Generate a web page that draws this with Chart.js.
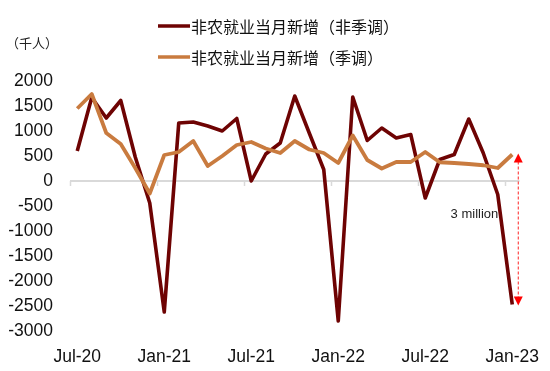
<!DOCTYPE html>
<html>
<head>
<meta charset="utf-8">
<script src="https://cdn.jsdelivr.net/npm/chart.js@4.4.0/dist/chart.umd.min.js"></script>
<style>
  html, body { margin: 0; padding: 0; background: #fff; }
  #wrap { width: 550px; height: 371px; }
</style>
</head>
<body>
<div id="wrap"><canvas id="myChart" width="550" height="371"></canvas></div>
<script>
// months, Jul-20 .. Jan-23
var months = ['Jul-20', 'Aug-20', 'Sep-20', 'Oct-20', 'Nov-20', 'Dec-20',
  'Jan-21', 'Feb-21', 'Mar-21', 'Apr-21', 'May-21', 'Jun-21',
  'Jul-21', 'Aug-21', 'Sep-21', 'Oct-21', 'Nov-21', 'Dec-21',
  'Jan-22', 'Feb-22', 'Mar-22', 'Apr-22', 'May-22', 'Jun-22',
  'Jul-22', 'Aug-22', 'Sep-22', 'Oct-22', 'Nov-22', 'Dec-22', 'Jan-23'];

// 非季调 (not seasonally adjusted), thousands
var nsa = [600, 1670, 1260, 1610, 480, -440,
  -2620, 1160, 1180, 1100, 1000, 1250,
  0, 540, 760, 1700, 960, 230,
  -2800, 1680, 810, 1060, 860, 930,
  -340, 430, 530, 1240, 560, -270, -2470];

// 季调 (seasonally adjusted), thousands
var sa = [1450, 1740, 960, 740, 260, -250,
  520, 580, 800, 300, 500, 720,
  780, 650, 560, 800, 630, 560,
  360, 910, 420, 250, 380, 380,
  580, 375, 360, 340, 315, 260, 530];

var yTicks = [2000, 1500, 1000, 500, 0, -500, -1000, -1500, -2000, -2500, -3000];
var shownLabels = ['Jul-20', 'Jan-21', 'Jul-21', 'Jan-22', 'Jul-22', 'Jan-23'];

var legendNames = ['非农就业当月新增（非季调）', '非农就业当月新增（季调）'];
var unitLabel = '（千人）';
var arrowText = '3 million';

var darkColor = '#6E0303';
var orangeColor = '#C97B3F';
var numFont = "'Liberation Sans', Arial, sans-serif";
var cjkFont = "'Noto Sans CJK SC', 'Noto Sans', sans-serif";

// extra drawing: zero-line ticks, arrow, legend, unit label
var extras = {
  id: 'extras',
  afterDatasetsDraw: function (chart) {
    var ctx = chart.ctx;
    var x = chart.scales.x, y = chart.scales.y;
    var half = (x.getPixelForValue(1) - x.getPixelForValue(0)) / 2;
    var y0 = y.getPixelForValue(0);

    // tick marks under the zero line
    ctx.save();
    ctx.strokeStyle = '#d9d9d9';
    ctx.lineWidth = 1.5;
    months.forEach(function (m, i) {
      if (shownLabels.indexOf(m) < 0) return;
      var px = Math.round(x.getPixelForValue(i) - half) + 0.5;
      ctx.beginPath();
      ctx.moveTo(px, y0);
      ctx.lineTo(px, y0 + 5);
      ctx.stroke();
    });
    ctx.restore();

    // red dashed double arrow
    var last = months.length - 1;
    var ax = x.getPixelForValue(last) + 6;
    var top = y.getPixelForValue(sa[last]);
    var bot = y.getPixelForValue(nsa[last]);
    ctx.save();
    ctx.strokeStyle = '#FF2020';
    ctx.fillStyle = '#FF0000';
    ctx.lineWidth = 1;
    ctx.setLineDash([3, 2]);
    ctx.beginPath();
    ctx.moveTo(ax, top + 7);
    ctx.lineTo(ax, bot - 7);
    ctx.stroke();
    ctx.setLineDash([]);
    ctx.beginPath();
    ctx.moveTo(ax, top - 1);
    ctx.lineTo(ax - 4.5, top + 8);
    ctx.lineTo(ax + 4.5, top + 8);
    ctx.closePath();
    ctx.fill();
    ctx.beginPath();
    ctx.moveTo(ax, bot + 1);
    ctx.lineTo(ax - 4.5, bot - 8);
    ctx.lineTo(ax + 4.5, bot - 8);
    ctx.closePath();
    ctx.fill();

    ctx.fillStyle = '#222';
    ctx.font = '13px ' + numFont;
    ctx.textAlign = 'right';
    ctx.textBaseline = 'middle';
    ctx.fillText(arrowText, ax - 20, 214);
    ctx.restore();
  },
  afterDraw: function (chart) {
    var ctx = chart.ctx;
    ctx.save();
    // legend
    var cols = [darkColor, orangeColor];
    var rows = [26, 57];
    ctx.font = '16px ' + cjkFont;
    ctx.textAlign = 'left';
    ctx.textBaseline = 'middle';
    legendNames.forEach(function (name, i) {
      ctx.strokeStyle = cols[i];
      ctx.lineWidth = 3.5;
      ctx.beginPath();
      ctx.moveTo(158, rows[i]);
      ctx.lineTo(190, rows[i]);
      ctx.stroke();
      ctx.fillStyle = '#111';
      ctx.fillText(name, 191, rows[i] + 1);
    });
    // unit
    ctx.font = '13px ' + cjkFont;
    ctx.fillStyle = '#222';
    ctx.fillText(unitLabel, 6, 43);
    ctx.restore();
  }
};

var ctx = document.getElementById('myChart').getContext('2d');
var chart = new Chart(ctx, {
  type: 'line',
  data: {
    labels: months,
    datasets: [{
      label: legendNames[1],
      data: sa,
      borderColor: orangeColor,
      borderWidth: 3.8,
      pointRadius: 0,
      tension: 0,
      borderJoinStyle: 'round',
      order: 1
    }, {
      label: legendNames[0],
      data: nsa,
      borderColor: darkColor,
      borderWidth: 3.6,
      pointRadius: 0,
      tension: 0,
      borderJoinStyle: 'round',
      order: 2
    }]
  },
  options: {
    responsive: false,
    animation: false,
    devicePixelRatio: 1,
    layout: { padding: { top: 81, right: 30.5, bottom: 0, left: 0 } },
    plugins: {
      legend: { display: false },
      tooltip: { enabled: false }
    },
    scales: {
      x: {
        offset: true,
        grid: { display: false },
        border: { display: false },
        ticks: {
          autoSkip: false,
          maxRotation: 0,
          padding: 8,
          color: '#111',
          font: { family: numFont, size: 17.5 },
          callback: function (v, i) {
            var m = months[i];
            return shownLabels.indexOf(m) >= 0 ? m : '';
          }
        },
        afterFit: function (s) { s.height = 40; }
      },
      y: {
        min: yTicks[yTicks.length - 1],
        max: yTicks[0],
        border: { display: false },
        grid: {
          drawTicks: false,
          lineWidth: 2,
          color: function (c) { return c.tick && c.tick.value === 0 ? '#d9d9d9' : 'rgba(0,0,0,0)'; }
        },
        ticks: {
          stepSize: 500,
          padding: 17,
          color: '#111',
          font: { family: numFont, size: 17.5 },
          callback: function (v) { return String(v); }
        },
        afterFit: function (s) { s.width = 70; }
      }
    }
  },
  plugins: [extras]
});
</script>
</body>
</html>
